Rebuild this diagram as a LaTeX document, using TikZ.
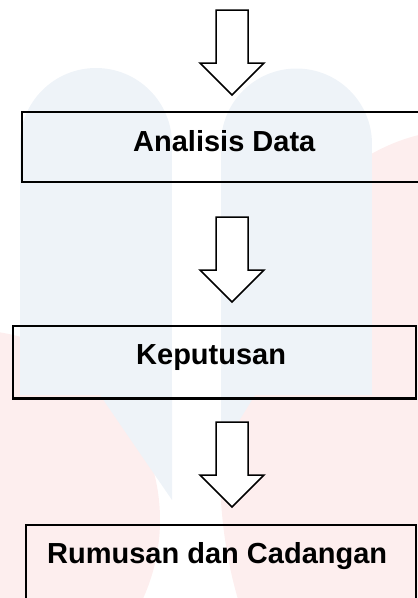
\documentclass[tikz,border=0pt]{standalone}
\usepackage{fontspec}
\setmainfont{Liberation Sans}
\definecolor{wmblue}{RGB}{238,243,248}
\definecolor{wmred}{RGB}{253,238,238}
\newcommand\blockarrow[2]{%
  \coordinate (#1tail) at (232,#2);
  \coordinate (#1tip) at (232,#2+85);
  \draw[blk] (216,#2) -- (248,#2) -- (248,#2+53) -- (264,#2+53) -- (#1tip)
     -- (200,#2+53) -- (216,#2+53) -- cycle;
}
\begin{document}
\begin{tikzpicture}[x=1pt,y=-1pt,
  box/.style={draw=black,line width=2.2pt,inner sep=0pt,outer sep=0pt},
  blk/.style={draw=black,line width=1.5pt,fill=white,line join=miter},
  lbl/.style={anchor=base west,inner sep=0pt,font=\bfseries\fontsize{29}{34}\selectfont}]
\useasboundingbox (0,0) rectangle (418,598);
\clip (0,0) rectangle (418,598);
% watermark
\begin{scope}
  \clip (-50,0) rectangle (172,700);
  \fill[wmred] (-30,520) circle (190pt);
\end{scope}
\begin{scope}
  \clip (221,0) rectangle (500,700);
  \fill[wmred] (460,470) ellipse [x radius=240pt, y radius=340pt];
\end{scope}
\fill[wmblue] (96,144) circle (76pt);
\fill[wmblue] (20,144) rectangle (172,395);
\fill[wmblue] (100,395) -- (172,395) -- (172,500) -- cycle;
\fill[wmblue] (296.5,144) circle (75.5pt);
\fill[wmblue] (221,144) rectangle (372,395);
\fill[wmblue] (221,395) -- (255,395) -- (221,450) -- cycle;
% boxes
\node[box,minimum width=403pt,minimum height=70pt] (b1) at (223.5,147) {};
\node[box,minimum width=403pt,minimum height=72.5pt] (b2) at (214.5,362.25) {};
\node[box,minimum width=390pt,minimum height=115pt] (b3) at (221,582.5) {};
% labels
\node[lbl] (t1) at (133,151) {Analisis Data};
\node[lbl] (t2) at (136,364) {Keputusan};
\node[lbl] (t3) at (47,563) {Rumusan dan Cadangan};
% block arrows
\blockarrow{a1}{10}
\blockarrow{a2}{217}
\blockarrow{a3}{422}
\end{tikzpicture}
\end{document}
